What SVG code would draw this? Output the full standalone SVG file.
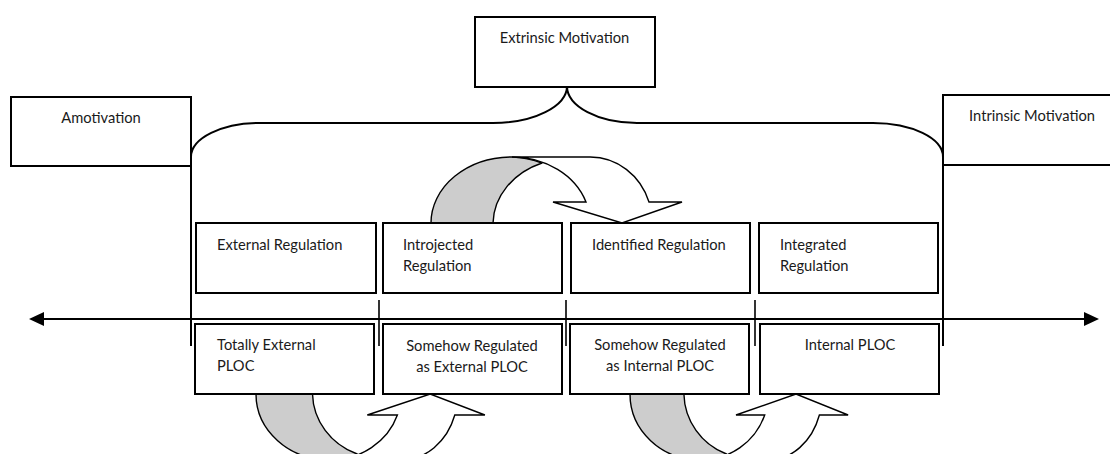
<svg xmlns="http://www.w3.org/2000/svg" width="1110" height="454" viewBox="0 0 1110 454">
  <defs>
    <style>
      .box { fill: #ffffff; stroke: #000000; stroke-width: 2; }
      .lbl { font-family: Lato, "Liberation Sans", Arial, sans-serif; font-size: 14.7px; fill: #1a1a1a; }
      .mid { text-anchor: middle; }
      .line { fill: none; stroke: #000000; stroke-width: 2; }
      .tick { fill: none; stroke: #000000; stroke-width: 1.6; }
      .head { fill: #000000; stroke: none; }
      .back { fill: #cdcdcd; stroke: #000000; stroke-width: 1.4; stroke-linejoin: round; }
      .front { fill: #ffffff; stroke: #000000; stroke-width: 1.4; stroke-linejoin: miter; }
    </style>
  </defs>

  <rect width="1110" height="454" fill="#ffffff"/>

  <!-- connectors: brace, continuum axis, dividers and curved transition arrows -->
  <g id="connectors">
    <path class="line" d="M191,346 L191,157 A69,34 0 0 1 260,123 L493,123 A74,37 0 0 0 567,86 A70,37 0 0 0 637,123 L873,123 A70,34 0 0 1 943,157 L943,346"/>
    <line class="line" x1="42" y1="319" x2="1086" y2="319"/>
    <polygon class="head" points="29,319 44,312 44,326"/>
    <polygon class="head" points="1099,319 1084,312 1084,326"/>
    <line class="tick" x1="379" y1="300" x2="379" y2="346"/>
    <line class="tick" x1="566" y1="300" x2="566" y2="346"/>
    <line class="tick" x1="755" y1="300" x2="755" y2="346"/>

    <!-- over-the-top arrow: Introjected to Identified -->
    <g id="arrow-top">
      <path class="back" d="M431,223 A81,66 0 0 1 512,157 A78,66 0 0 1 542,163 A77,66 0 0 0 493,223 Z"/>
      <path class="front" d="M512,157 L590,157 A62,66 0 0 1 649,202 L682,202 L622,223 L553,202 L586,202 A78,66 0 0 0 512,157 Z"/>
    </g>
    <!-- under arrow: Totally External to Somehow External -->
    <g id="arrow-bottom-1">
      <path class="back" d="M256,394 A73.9,66 0 0 0 329.9,460 A71.1,66 0 0 0 357.2,454 A70.2,66 0 0 1 312.5,394 Z"/>
      <path class="front" d="M329.9,460 L401,460 A56.5,66 0 0 0 454.8,415 L484.9,415 L430.2,394 L367.3,415 L397.4,415 A71.1,66 0 0 1 329.9,460 Z"/>
    </g>
    <!-- under arrow: Somehow Internal to Internal -->
    <g id="arrow-bottom-2">
      <path class="back" d="M630,394 A70.4,66 0 0 0 700.4,460 A67.8,66 0 0 0 726.5,454 A66.9,66 0 0 1 683.9,394 Z"/>
      <path class="front" d="M700.4,460 L768.2,460 A53.9,66 0 0 0 819.4,415 L848.1,415 L796,394 L736,415 L764.7,415 A67.8,66 0 0 1 700.4,460 Z"/>
    </g>
  </g>

  <!-- motivation types -->
  <g id="amotivation">
    <rect class="box" x="11" y="97" width="180" height="69"/>
    <text class="lbl mid" x="101" y="123">Amotivation</text>
  </g>
  <g id="extrinsic">
    <rect class="box" x="475" y="17" width="180" height="70"/>
    <text class="lbl mid" x="564.5" y="43">Extrinsic Motivation</text>
  </g>
  <g id="intrinsic">
    <rect class="box" x="943" y="95" width="180" height="70"/>
    <text class="lbl mid" x="1032" y="121">Intrinsic Motivation</text>
  </g>

  <!-- regulation styles -->
  <g id="external-regulation">
    <rect class="box" x="196" y="223" width="180" height="70"/>
    <text class="lbl" x="217" y="250">External Regulation</text>
  </g>
  <g id="introjected-regulation">
    <rect class="box" x="383" y="223" width="179" height="70"/>
    <text class="lbl" x="403" y="250">Introjected</text>
    <text class="lbl" x="403" y="271">Regulation</text>
  </g>
  <g id="identified-regulation">
    <rect class="box" x="571" y="223" width="179" height="70"/>
    <text class="lbl" x="592" y="250">Identified Regulation</text>
  </g>
  <g id="integrated-regulation">
    <rect class="box" x="759" y="223" width="179" height="70"/>
    <text class="lbl" x="780" y="250">Integrated</text>
    <text class="lbl" x="780" y="271">Regulation</text>
  </g>

  <!-- perceived locus of causality -->
  <g id="totally-external-ploc">
    <rect class="box" x="195" y="324" width="179" height="70"/>
    <text class="lbl" x="217" y="350">Totally External</text>
    <text class="lbl" x="217" y="371">PLOC</text>
  </g>
  <g id="somehow-external-ploc">
    <rect class="box" x="383" y="324" width="179" height="70"/>
    <text class="lbl mid" x="472" y="351">Somehow Regulated</text>
    <text class="lbl mid" x="472" y="372">as External PLOC</text>
  </g>
  <g id="somehow-internal-ploc">
    <rect class="box" x="570" y="324" width="179" height="70"/>
    <text class="lbl mid" x="660" y="350">Somehow Regulated</text>
    <text class="lbl mid" x="660" y="371">as Internal PLOC</text>
  </g>
  <g id="internal-ploc">
    <rect class="box" x="760" y="324" width="179" height="70"/>
    <text class="lbl mid" x="850" y="350">Internal PLOC</text>
  </g>
</svg>
